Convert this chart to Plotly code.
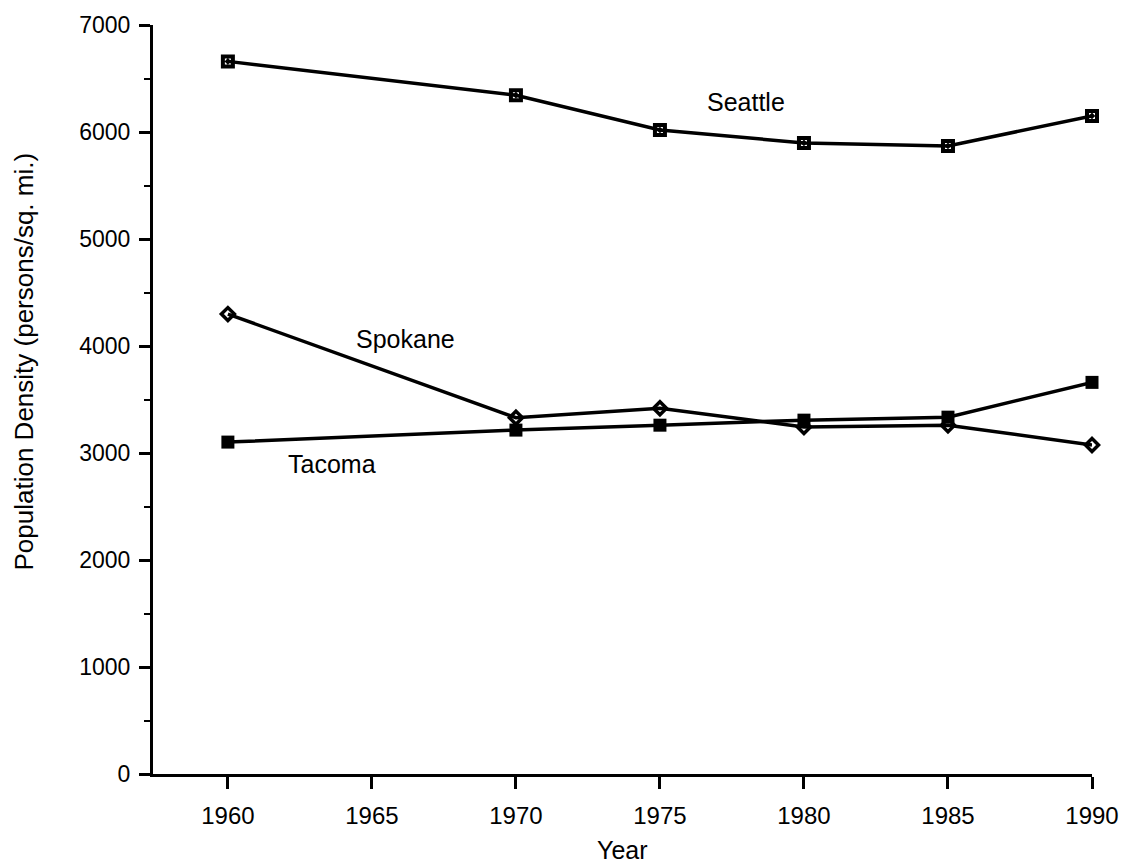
import plotly.graph_objects as go

# Population density by city, persons per square mile
years = [1960, 1970, 1975, 1980, 1985, 1990]
seattle = [6660, 6344, 6019, 5898, 5870, 6150]
spokane = [4298, 3330, 3419, 3242, 3260, 3075]
tacoma = [3102, 3214, 3260, 3307, 3335, 3660]

x_ticks = [1960, 1965, 1970, 1975, 1980, 1985, 1990]
y_ticks = [0, 1000, 2000, 3000, 4000, 5000, 6000, 7000]

FONT = "Liberation Sans, Arial, Helvetica, sans-serif"
INK = "black"

fig = go.Figure()

fig.add_trace(go.Scatter(
    x=years, y=seattle, mode="lines+markers", name="Seattle",
    line=dict(color=INK, width=3.5),
    marker=dict(symbol="square-open-dot", size=10, color=INK,
                line=dict(color=INK, width=4)),
    cliponaxis=False,
))
fig.add_trace(go.Scatter(
    x=years, y=spokane, mode="lines+markers", name="Spokane",
    line=dict(color=INK, width=3.5),
    marker=dict(symbol="diamond-open", size=10, color=INK,
                line=dict(color=INK, width=3.5)),
    cliponaxis=False,
))
fig.add_trace(go.Scatter(
    x=years, y=tacoma, mode="lines+markers", name="Tacoma",
    line=dict(color=INK, width=3.5),
    marker=dict(symbol="square", size=13, color=INK,
                line=dict(color=INK, width=0)),
    cliponaxis=False,
))

# Series labels written next to the lines
labels = [
    ("Seattle", 1978.0, 6277),
    ("Spokane", 1966.15, 4070),
    ("Tacoma", 1963.6, 2893),
]
for text, lx, ly in labels:
    fig.add_annotation(x=lx, y=ly, text=text, showarrow=False,
                       font=dict(family=FONT, size=25, color=INK),
                       xanchor="center", yanchor="middle")

# Axis titles
fig.add_annotation(xref="paper", yref="paper", x=0.5, y=0,
                   xshift=0, yshift=-76, text="Year", showarrow=False,
                   font=dict(family=FONT, size=25, color=INK),
                   xanchor="center", yanchor="middle")
fig.add_annotation(xref="paper", yref="paper", x=0, y=0.5,
                   xshift=-130, yshift=38,
                   text="Population Density (persons/sq. mi.)",
                   textangle=-90, showarrow=False,
                   font=dict(family=FONT, size=26, color=INK),
                   xanchor="center", yanchor="middle")

fig.update_layout(
    width=1142, height=867,
    margin=dict(l=153, r=50, t=19, b=93),
    paper_bgcolor="white", plot_bgcolor="white",
    showlegend=False,
    font=dict(family=FONT, color=INK),
)

fig.update_xaxes(
    range=[1957.4, 1990], tickvals=x_ticks,
    ticktext=[str(v) for v in x_ticks],
    showgrid=False, zeroline=False,
    showline=True, linecolor=INK, linewidth=3,
    ticks="outside", ticklen=12, tickwidth=3, tickcolor=INK,
    tickfont=dict(family=FONT, size=24, color=INK),
    ticklabelstandoff=6,
)
fig.update_yaxes(
    range=[0, 7000], tickvals=y_ticks,
    ticktext=[str(v) for v in y_ticks],
    showgrid=False, zeroline=False,
    showline=True, linecolor=INK, linewidth=3,
    ticks="outside", ticklen=11, tickwidth=3, tickcolor=INK,
    tickfont=dict(family=FONT, size=23, color=INK),
    ticklabelstandoff=4,
    minor=dict(dtick=500, tick0=0, ticks="outside", ticklen=6,
               tickwidth=2, tickcolor=INK),
)

fig.write_html("out.html")
